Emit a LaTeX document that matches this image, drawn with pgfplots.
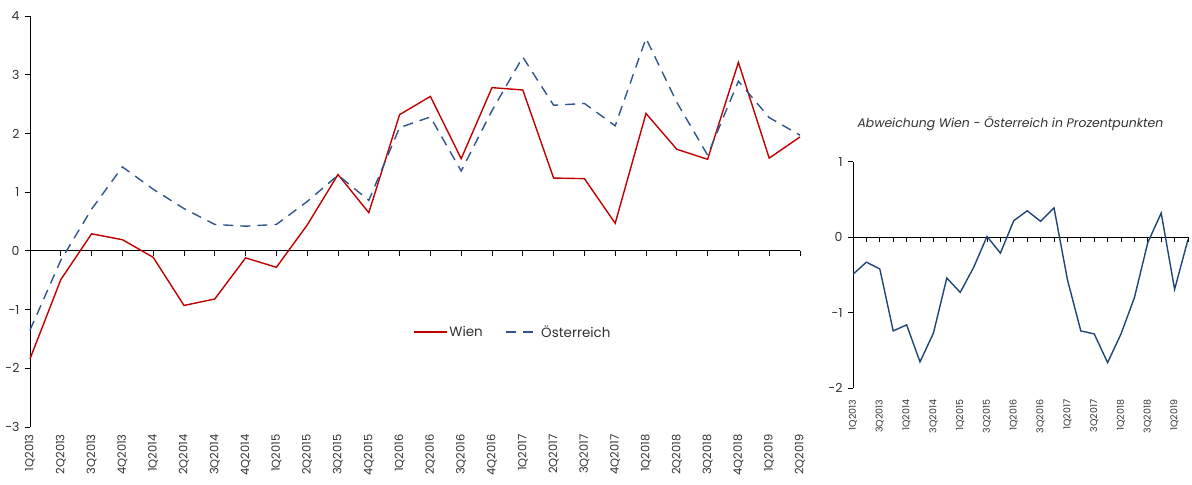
\documentclass[border=0pt]{standalone}
\usepackage{pgfplots}
\usepackage{pgfplotstable}
\pgfplotsset{compat=1.18}
\usepackage{fontspec}
\setmainfont{Poppins}

\definecolor{wienred}{RGB}{192,0,0}
\definecolor{atblue}{RGB}{47,85,140}
\definecolor{devblue}{RGB}{31,68,120}
\definecolor{txtgray}{RGB}{50,50,50}

% q: quarter index (0 = 1Q2013), wien / oe: growth in %, dev: Wien minus Oesterreich
\pgfplotstableread{
q  wien   oe     dev
0  -1.84  -1.35  -0.49
1  -0.49  -0.16  -0.33
2   0.29   0.71  -0.42
3   0.19   1.43  -1.24
4  -0.11   1.05  -1.16
5  -0.93   0.72  -1.65
6  -0.82   0.45  -1.27
7  -0.12   0.42  -0.54
8  -0.28   0.45  -0.73
9   0.44   0.84  -0.40
10  1.30   1.29   0.01
11  0.65   0.86  -0.21
12  2.32   2.10   0.22
13  2.63   2.28   0.35
14  1.57   1.36   0.21
15  2.78   2.39   0.39
16  2.74   3.30  -0.56
17  1.24   2.48  -1.24
18  1.23   2.51  -1.28
19  0.47   2.13  -1.66
20  2.34   3.62  -1.28
21  1.73   2.53  -0.80
22  1.56   1.63  -0.07
23  3.21   2.89   0.32
24  1.58   2.27  -0.69
25  1.94   1.97  -0.03
}\growth

\pgfplotsset{
  quarterstyle/.style={
    scale only axis,
    xmin=0, xmax=25,
    axis x line=middle, axis y line=left,
    x axis line style={-}, y axis line style={-},
    axis line style={black, line width=0.9pt},
    tick style={black, line width=0.8pt},
    tick align=outside,
    major tick length=5bp,
    hide obscured x ticks=false,
    xtick={0,...,25},
    /pgf/number format/assume math mode=true,
    ticklabel style={text=txtgray},
    clip=false,
  }
}

\begin{document}
\begin{tikzpicture}
\path[use as bounding box] (0,0) rectangle (1192bp,485bp);

% main chart: quarterly growth
\begin{axis}[
  quarterstyle,
  at={(30bp,58bp)}, anchor=south west,
  width=770bp, height=411bp,
  ymin=-3, ymax=4, ytick={-3,...,4},
  yticklabel style={font=\fontsize{12.5}{12.5}\selectfont, xshift=-2bp},
  xticklabels={1Q2013,2Q2013,3Q2013,4Q2013,1Q2014,2Q2014,3Q2014,4Q2014,
    1Q2015,2Q2015,3Q2015,4Q2015,1Q2016,2Q2016,3Q2016,4Q2016,
    1Q2017,2Q2017,3Q2017,4Q2017,1Q2018,2Q2018,3Q2018,4Q2018,1Q2019,2Q2019},
  xticklabel style={rotate=90, anchor=east, font=\fontsize{11.5}{11.5}\selectfont},
  xticklabel shift=175bp,
  legend style={at={(0.627,0.231)}, anchor=center, draw=none, fill=none,
    legend columns=2, font=\fontsize{13.5}{13.5}\selectfont, text=txtgray,
    /tikz/every even column/.append style={column sep=20bp}},
  legend image code/.code={\draw[#1] (0bp,0bp) -- (33bp,0bp);},
]
\addplot[wienred, line width=1.4pt] table[x=q, y=wien] {\growth};
\addlegendentry{Wien}
\addplot[atblue, line width=1.4pt, dash pattern=on 10bp off 7bp] table[x=q, y=oe] {\growth};
\addlegendentry{Österreich}
\end{axis}

% deviation chart
\begin{axis}[
  quarterstyle,
  at={(853bp,96.7bp)}, anchor=south west,
  width=335bp, height=226.6bp,
  ymin=-2, ymax=1, ytick={-2,-1,0,1},
  yticklabel style={font=\fontsize{12.5}{12.5}\selectfont, xshift=-2bp},
  xticklabels={1Q2013,,3Q2013,,1Q2014,,3Q2014,,1Q2015,,3Q2015,,
    1Q2016,,3Q2016,,1Q2017,,3Q2017,,1Q2018,,3Q2018,,1Q2019,},
  xticklabel style={rotate=90, anchor=east, font=\fontsize{9.5}{9.5}\selectfont},
  xticklabel shift=154bp,
  title={\itshape Abweichung Wien - Österreich in Prozentpunkten},
  title style={at={(0.47,1.14)}, anchor=center, font=\fontsize{12.5}{12.5}\selectfont, text=txtgray},
]
\addplot[devblue, line width=1.4pt] table[x=q, y=dev] {\growth};
\end{axis}
\end{tikzpicture}
\end{document}
